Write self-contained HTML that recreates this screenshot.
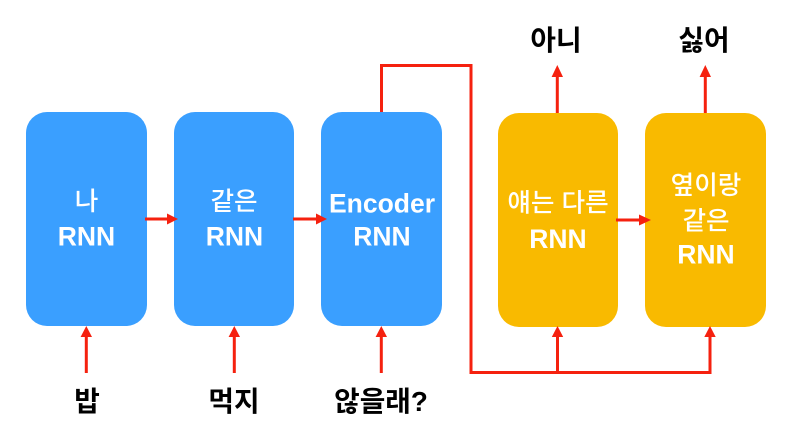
<!DOCTYPE html>
<html><head><meta charset="utf-8"><style>
html,body{margin:0;padding:0;background:#fff;width:796px;height:444px;overflow:hidden}
svg{display:block}
text{font-family:"Liberation Sans","Noto Sans CJK KR",sans-serif;text-anchor:middle;font-size:26.5px;font-weight:700}
.w{fill:#fff}
.k{fill:#000}
.kr{font-size:25.6px;font-weight:500}
.b{font-size:27.8px;font-weight:700}
</style></head><body>
<svg width="796" height="444" viewBox="0 0 796 444" xmlns="http://www.w3.org/2000/svg">
<rect width="796" height="444" fill="#fff"/>
<rect x="26" y="112" width="121" height="214" rx="21" fill="#3a9fff"/>
<rect x="174" y="112" width="120" height="214" rx="21" fill="#3a9fff"/>
<rect x="321" y="112" width="121" height="214" rx="21" fill="#3a9fff"/>
<rect x="498" y="113" width="120" height="214" rx="21" fill="#f9ba00"/>
<rect x="645" y="113" width="121" height="214" rx="21" fill="#f9ba00"/>
<g fill="none" stroke="#f5210f" stroke-width="3">
<path d="M145 219H168"/><path d="M293 219H316"/><path d="M616 220H640"/>
<path d="M86.3 373V337"/><path d="M234.3 373V337"/><path d="M381.3 373V337"/>
<path d="M557.3 113V76"/><path d="M705.3 113V76"/>
<path d="M381.5 112V65.5H471V372.5H710V336"/><path d="M557.5 372.5V336"/>
</g>
<g fill="#f5210f">
<path d="M178 219L167 213.5V224.5Z"/><path d="M327 219L316 213.5V224.5Z"/><path d="M651 220L639 214.5V225.5Z"/>
<path d="M86.3 326L80.6 337H92Z"/><path d="M234.3 326L228.6 337H240Z"/><path d="M381.3 326L375.6 337H387Z"/>
<path d="M557.5 326L551.8 337H563.2Z"/><path d="M710 326L704.3 337H715.7Z"/>
<path d="M557.3 65L551.6 77H563Z"/><path d="M705.3 65L699.6 77H711Z"/>
</g>
<text class="w kr" x="86.5" y="210">나</text>
<text class="w" x="86.5" y="245.5">RNN</text>
<text class="w kr" x="234" y="210">같은</text>
<text class="w" x="234.5" y="245.5">RNN</text>
<text class="w" x="382" y="212.5">Encoder</text>
<text class="w" x="382" y="245.5">RNN</text>
<text class="w kr" x="558" y="211.5">얘는 다른</text>
<text class="w" x="558" y="248">RNN</text>
<text class="w kr" x="706" y="194">옆이랑</text>
<text class="w kr" x="706" y="229.5">같은</text>
<text class="w" x="706" y="263.5">RNN</text>
<text class="k b" x="87" y="411">밥</text>
<text class="k b" x="234" y="411">먹지</text>
<text class="k b" x="381" y="411">않을래?</text>
<text class="k b" x="556" y="50">아니</text>
<text class="k b" x="704" y="50">싫어</text>
</svg>
</body></html>
